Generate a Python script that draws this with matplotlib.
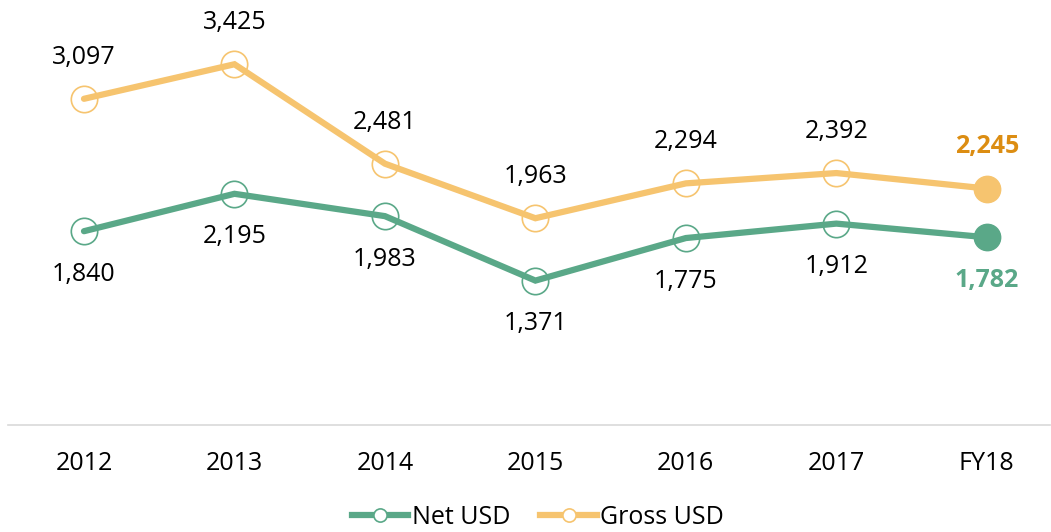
import matplotlib.pyplot as plt
from matplotlib.lines import Line2D

plt.rcParams['font.family'] = ['Open Sans', 'DejaVu Sans']

years = ['2012', '2013', '2014', '2015', '2016', '2017', 'FY18']
gross = [3097, 3425, 2481, 1963, 2294, 2392, 2245]
net = [1840, 2195, 1983, 1371, 1775, 1912, 1782]

green = '#5aa888'
orange = '#f6c46f'
dark_orange = '#dc8d12'

fig = plt.figure(figsize=(10.51, 5.32), dpi=100)
ax = fig.add_axes([8 / 1051, 1 - 425 / 532, 1042 / 1051, 425 / 532])

x = list(range(len(years)))
ms = 19

for vals, col in [(gross, orange), (net, green)]:
    ax.plot(x, vals, color=col, lw=4.5, solid_capstyle='round',
            solid_joinstyle='miter', zorder=2)
    ax.plot(x[:-1], vals[:-1], 'o', ms=ms, mfc='none', mec=col, mew=1.2, zorder=3)
    ax.plot(x[-1], vals[-1], 'o', ms=ms, color=col, zorder=3)

for i, v in enumerate(gross):
    last = i == len(gross) - 1
    ax.annotate(f'{v:,}', (i, v), xytext=(0, 30), textcoords='offset points',
                ha='center', va='center', fontsize=18,
                color=dark_orange if last else 'black',
                fontweight='bold' if last else 'normal')
for i, v in enumerate(net):
    last = i == len(net) - 1
    ax.annotate(f'{v:,}', (i, v), xytext=(0, -31), textcoords='offset points',
                ha='center', va='center', fontsize=18,
                color=green if last else 'black',
                fontweight='bold' if last else 'normal')

ax.set_xlim(-0.505, 6.42)
ax.set_ylim(0, 4035)
ax.set_yticks([])
ax.set_xticks(x)
ax.set_xticklabels(years, fontsize=18)
ax.tick_params(axis='x', length=0, pad=19)
for s in ['top', 'right', 'left']:
    ax.spines[s].set_visible(False)
ax.spines['bottom'].set_color('#d9d9d9')
ax.spines['bottom'].set_linewidth(1.2)

handles = [
    Line2D([], [], color=green, lw=4.5, marker='o', ms=9.5, mfc='white', mec=green, mew=1.2),
    Line2D([], [], color=orange, lw=4.5, marker='o', ms=9.5, mfc='white', mec=orange, mew=1.2),
]
fig.legend(handles, ['Net USD', 'Gross USD'], loc='center', bbox_to_anchor=(0.512, 0.027),
           ncol=2, frameon=False, fontsize=18, handlelength=2.25, handletextpad=0.15,
           columnspacing=1.2)

fig.savefig('out.png', dpi=100)
